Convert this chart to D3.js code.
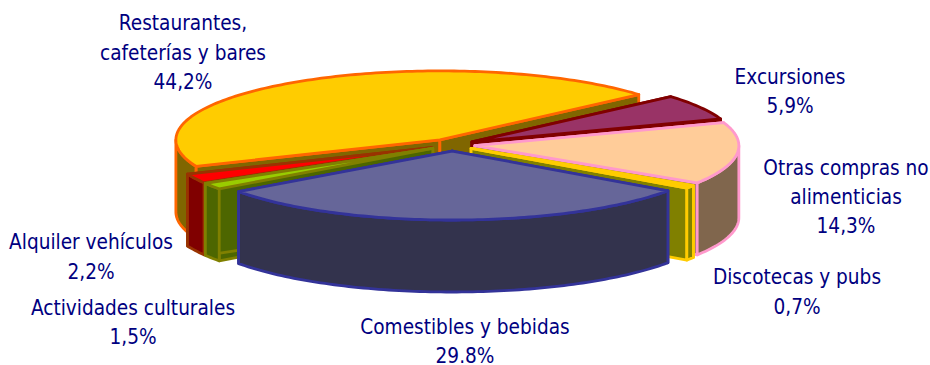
<!DOCTYPE html>
<html><head><meta charset="utf-8">
<script src="https://d3js.org/d3.v7.min.js"></script>
<style>html,body{margin:0;padding:0;background:#fff}svg{display:block}</style>
</head><body><svg id="c" width="930" height="365"></svg>
<script>
const categories = [["Restaurantes,","cafeterías y bares"],["Excursiones"],["Otras compras no","alimenticias"],["Discotecas y pubs"],["Comestibles y bebidas"],["Actividades culturales"],["Alquiler vehículos"]];
const values = [44.2,5.9,14.3,0.7,29.8,1.5,2.2];
const valueLabels = ["44,2%","5,9%","14,3%","0,7%","29.8%","1,5%","2,2%"];
const topFill = ["#FFCC00","#993366","#FFCC99","#FFCC00","#666699","#99CC00","#FF0000"];
const edgeStroke = ["#FF6600","#800000","#FF99CC","#FFCC00","#333399","#808000","#993300"];
const wallFill = ["#806600","#800000","#80664D","#808000","#33334D","#4D6600","#800000"];
const drawOrder = [0,1,2,6,5,3,4];
const labelX = [183,790,846,797,465,133,91];
const labelY = [23,77,168,277,327,308,242];
const labelStep = [29.5,29,29,30,29,29,30];

const cx=452, cy=145, rx=264, ry=69, depth=72, explode=23, TAU=Math.PI*2;
const start=-112.5*Math.PI/180;
const arcs=d3.pie().sort(null).startAngle(start).endAngle(start+TAU)(values);
const svg=d3.select("#c");
const line=d3.line().curve(d3.curveLinear);
const proj=(a,r,o,dz)=>[cx+explode*Math.sin(o)+rx*r*Math.sin(a), cy-explode*(ry/rx)*Math.cos(o)-ry*r*Math.cos(a)+dz];
const arcPts=(a0,a1,o,dz)=>{const n=Math.max(2,Math.ceil((a1-a0)/0.02));return d3.range(n+1).map(i=>proj(a0+(a1-a0)*i/n,1,o,dz));};

drawOrder.forEach(i=>{
  const d=arcs[i], a0=d.startAngle, a1=d.endAngle, o=(a0+a1)/2;
  const g=svg.append("g");
  const style=s=>s.attr("stroke",edgeStroke[i]).attr("stroke-width",2.8).attr("stroke-linejoin","round");
  [a0,a1].forEach(a=>{
    const pts=[proj(0,0,o,0),proj(a,1,o,0),proj(a,1,o,depth),proj(0,0,o,depth)];
    style(g.append("path")).attr("d",line(pts)+"Z").attr("fill",wallFill[i]);
  });
  for(let k=-1;k<=1;k++){
    const lo=Math.max(a0,Math.PI/2+k*TAU), hi=Math.min(a1,Math.PI*1.5+k*TAU);
    if(hi>lo){
      const pts=arcPts(lo,hi,o,0).concat(arcPts(lo,hi,o,depth).reverse());
      style(g.append("path")).attr("d",line(pts)+"Z").attr("fill",wallFill[i]);
    }
  }
  style(g.append("path")).attr("d",line([proj(0,0,o,0)].concat(arcPts(a0,a1,o,0)))+"Z").attr("fill",topFill[i]);
});

categories.forEach((c,i)=>{
  const lines=c.concat([valueLabels[i]]);
  lines.forEach((t,j)=>svg.append("text").attr("x",labelX[i]).attr("y",labelY[i]+j*labelStep[i])
    .attr("dy","0.35em").attr("text-anchor","middle")
    .attr("font-family","'DejaVu Sans Condensed','DejaVu Sans',sans-serif").attr("font-stretch","condensed")
    .attr("font-size",20.6).attr("fill","#000080").text(t));
});
</script></body></html>
